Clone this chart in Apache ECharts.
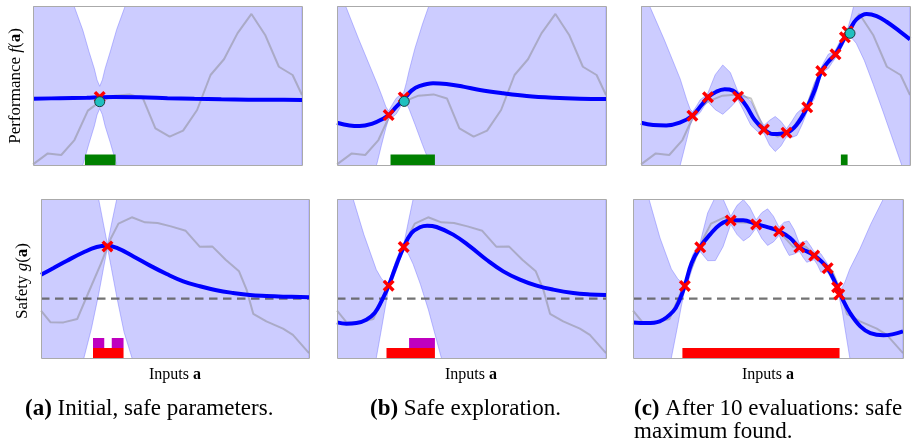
<!DOCTYPE html>
<html>
<head>
<meta charset="utf-8">
<script src="https://cdn.jsdelivr.net/npm/echarts@6/dist/echarts.min.js"></script>
<style>
  html, body { margin: 0; padding: 0; background: #fff; }
  #chart { width: 917px; height: 443px; }
</style>
</head>
<body>
<div id="chart"></div>
<script>
// all x values are percent of the input range, y values percent of the panel height

// true functions (same in every column)
const truthFX = [0, 5.5, 10.5, 15.4, 20.4, 25.0, 30.3, 35.9, 40.9, 45.5, 50.8, 55.8, 61.0, 66.0, 71.0, 76.0, 81.2, 86.3, 91.4, 96.5, 100];
const truthFY = [0.4, 7.3, 6.3, 15.7, 34.2, 40.0, 43.6, 44.4, 41.8, 23.1, 17.8, 21.6, 34.6, 56.6, 66.5, 82.8, 95.0, 81.8, 61.8, 56.6, 44.0];
const truthGX = [0, 3.5, 8.4, 13.5, 17.8, 22.4, 26.0, 28.9, 33.9, 38.8, 43.5, 48.5, 54.0, 59.2, 63.9, 68.9, 73.9, 76.7, 79.2, 84.1, 90.3, 94.0, 100];
const truthGY = [29.8, 22.5, 22.4, 24.5, 41.5, 59.5, 75.0, 84.5, 88.5, 85.3, 84.9, 82.8, 80.0, 70.0, 70.2, 61.8, 54.5, 43.0, 27.8, 23.0, 18.5, 14.5, 3.1];
const safeLevel = 37.3;

// (a) performance
const aF_meanX = [0, 10, 20, 24.8, 30, 40, 50, 60, 70, 80, 90, 100];
const aF_mean = [41.7, 42.0, 42.3, 42.6, 42.7, 42.6, 42.0, 41.6, 41.3, 41.1, 41.0, 40.9];
const aF_bandX = [0, 4.8, 15.3, 18.5, 20.8, 22.8, 23.8, 24.8, 25.8, 26.8, 28.8, 31.1, 34.3, 44.8, 100];
const aF_bandLo = [-73, -58, -15.2, -0.1, 13.4, 24.5, 31.5, 35.5, 31.6, 24.6, 13.7, 0.2, -14.9, -58, -289];
const aF_bandHi = [157, 142, 99.8, 84.9, 71.4, 60.5, 53.5, 49.5, 53.6, 60.6, 71.7, 85.2, 100.1, 142, 371];
const aF_obsX = [24.8], aF_obsY = [42.8];
const aF_bestX = [24.8], aF_bestY = [39.8];
const aF_safe = [[19.3, 30.7]];

// (b) performance
const bF_meanX = [0, 4.7, 8.4, 13.4, 17.1, 19.2, 22.1, 25.2, 27.7, 30.8, 35.7, 40.7, 46.9, 53.1, 61.8, 70.5, 80.4, 90.3, 100];
const bF_mean = [26.6, 24.9, 24.5, 26.2, 29.1, 31.4, 36.7, 41.9, 46.8, 49.7, 51.4, 50.9, 49.3, 47.2, 45.1, 43.4, 42.3, 41.7, 41.5];
const bF_bandX = [0, 3.2, 8, 14.9, 16.5, 18.2, 19.2, 20.6, 22, 23.4, 24.8, 25.8, 26.8, 29, 31.8, 34.2, 36.4, 45, 100];
const bF_bandLo = [-56.4, -49, -30.6, 1.2, 12.3, 23.5, 28.9, 30.1, 32, 36, 40.5, 38.8, 35.2, 25.5, 12.7, 2.3, 0, -41, -158.5];
const bF_bandHi = [109.6, 100, 79.4, 51.2, 44.3, 36.5, 33.9, 38.1, 42, 44, 45.5, 51.8, 59.2, 73.5, 88.7, 100.3, 102.6, 139, 241.5];
const bF_obsX = [19.2, 24.8], bF_obsY = [31.4, 42.5];
const bF_bestX = [25.0], bF_bestY = [40.0];
const bF_safe = [[19.9, 36.4]];

// (c) performance
const cF_meanX = [0, 4.5, 9.4, 14.4, 19.1, 22.5, 24.9, 28.0, 31.1, 34.2, 36.5, 39.3, 42.3, 45.7, 49.1, 54.1, 57.8, 61.8, 64.6, 67.0, 69.6, 72.5, 75.8, 77.7, 80.1, 83.9, 87.6, 91.3, 96.3, 100];
const cF_mean = [26.6, 25.2, 24.9, 26.6, 31.0, 37.7, 42.6, 46.1, 47.6, 46.8, 43.0, 36.7, 28.3, 22.4, 19.5, 20.3, 25.2, 36.3, 47.2, 58.7, 65.0, 70.2, 80.3, 85.3, 91.6, 95.0, 93.7, 90.1, 83.9, 79.0];
const cF_bandX = [0, 3.2, 8.7, 14.6, 17, 18.3, 19.2, 20.6, 22, 23.4, 24.8, 27.6, 30.4, 33.2, 36.0, 38.4, 40.85, 43.3, 45.7, 47.8, 49.9, 52, 54.1, 56, 57.95, 59.9, 61.8, 63.1, 64.4, 65.7, 67.0, 68.3, 69.65, 71, 72.3, 74, 75.8, 76.8, 78, 80, 83, 86.4, 90, 96.9, 100];
const cF_bandLo = [-63, -49, -29, 0, 16, 25, 28.5, 31, 33, 36.8, 40, 34.8, 31.9, 36.2, 41.3, 33.3, 25, 21.1, 19.9, 12.5, 8.5, 11.9, 17.8, 17.3, 18.6, 25.5, 33.8, 38, 41.5, 48.7, 56.4, 59.3, 60.7, 64.3, 67.3, 72, 77.8, 80.5, 80.5, 76.6, 65.8, 50.5, 33.5, 0, -16];
const cF_bandHi = [116, 100, 78.6, 54, 41, 35, 33.5, 37, 41, 42.8, 45, 56.8, 62.9, 58.2, 46.3, 43.9, 40, 31.7, 24.9, 28.1, 30.5, 27.5, 22.8, 27.3, 32.6, 35.5, 38.8, 45, 51.5, 55.7, 61.4, 65.7, 69.7, 70.7, 72.3, 78, 82.8, 85.5, 92.5, 106.6, 123.8, 138.5, 149.5, 166, 174];
const cF_obsX = [19.1, 24.9, 36.1, 45.7, 54.1, 61.8, 67.0, 72.3, 75.8, 76.8];
const cF_obsY = [31.0, 42.6, 43.0, 22.4, 20.3, 36.3, 59.1, 69.6, 80.3, 84.0];
const cF_bestX = [77.7], cF_bestY = [82.8];
const cF_safe = [[74.3, 76.8]];

// (a) safety
const aG_meanX = [0, 4.7, 9.7, 15.9, 20.8, 24.8, 28.3, 34.5, 40.7, 46.9, 53.1, 59.3, 65.5, 71.7, 77.9, 84.1, 90.3, 100];
const aG_mean = [52.4, 56.6, 61.2, 66.5, 69.8, 70.6, 69.2, 63.9, 58.1, 52.8, 48.2, 45.1, 42.6, 40.9, 39.6, 39.0, 38.6, 38.2];
const aG_bandX = [0, 10, 16.1, 18.8, 21.5, 23.3, 24.8, 26.3, 28.3, 31, 34.1, 45, 100];
const aG_bandLo = [-97.6, -43.7, 0.6, 18.4, 40, 56.3, 69.4, 56.2, 38.2, 16.2, -0.8, -75.5, -362];
const aG_bandHi = [202, 166, 132.6, 118.4, 100, 84.3, 71.4, 84.2, 100.2, 118.2, 129.2, 184.5, 438];
const aG_obsX = [24.8], aG_obsY = [70.2];
const aG_safe = [[19.4, 30.8]];
const aG_expand = [[19.4, 23.6], [26.4, 30.8]];

// (b) safety
const bG_meanX = [0, 3.5, 7.2, 10.9, 14.0, 16.5, 19.2, 22.1, 24.8, 27.7, 30.8, 33.5, 37.0, 43.2, 49.4, 55.6, 61.8, 68.0, 74.2, 80.4, 87.8, 94.0, 100];
const bG_mean = [22.4, 21.6, 22.0, 24.1, 28.3, 35.6, 45.5, 58.7, 69.8, 78.6, 82.2, 83.2, 82.4, 77.6, 70.2, 61.8, 54.5, 49.3, 45.5, 43.0, 40.9, 40.0, 39.6];
const bG_bandX = [0, 6, 10, 14.6, 16.5, 18, 19.2, 20.6, 22, 23.4, 24.8, 26.5, 28.3, 31, 34, 38.8, 45, 100];
const bG_bandLo = [-87.6, -55.2, -30.4, 0, 18, 32.5, 44, 48.8, 54.8, 61.5, 68.3, 65.5, 59, 46.4, 30.2, 0, -34, -260.4];
const bG_bandHi = [132.4, 100, 77.6, 55.6, 50, 47.5, 47, 54.8, 61.8, 67.5, 71.3, 85.5, 100, 118.4, 136.2, 162.4, 186, 339.6];
const bG_obsX = [19.2, 24.8], bG_obsY = [45.5, 69.8];
const bG_safe = [[18.4, 36.4]];
const bG_expand = [[26.8, 36.4]];

// (c) safety
const cG_meanX = [0, 5, 9.9, 14.9, 17.3, 19.2, 21.7, 24.8, 28.5, 32.2, 36.3, 40.8, 45.5, 50.1, 54.2, 58.2, 61.6, 67.2, 72.0, 75.5, 77.4, 80.4, 84.2, 87.9, 92.8, 100];
const cG_mean = [22.4, 22.0, 23.1, 29.4, 36.7, 45.5, 59.7, 69.6, 77.6, 83.9, 86.6, 86.6, 84.3, 82.2, 79.7, 75.5, 69.6, 64.4, 56.6, 45.1, 37.7, 28.3, 19.9, 15.7, 14.3, 16.8];
const cG_bandX = [0, 5.9, 10, 14.2, 16.5, 18, 19.2, 20.6, 22, 23.4, 24.8, 27.65, 30.5, 33.35, 36.2, 38.55, 40.9, 43.25, 45.6, 47.7, 49.85, 52, 54.1, 56, 57.85, 59.7, 61.6, 63, 64.35, 65.7, 67.1, 68.35, 69.6, 70.85, 72.1, 73.85, 75.6, 76.4, 77.5, 78.5, 80.3, 84, 88, 92.7, 100];
const cG_bandLo = [-83, -55, -29, 0, 20, 33.5, 43, 49, 56.5, 63, 67.1, 61.2, 61.3, 70, 84.1, 77.6, 73.6, 76.4, 81.8, 75.2, 70.8, 73, 77.2, 70.2, 64.5, 65.4, 67.1, 63.3, 60.2, 61, 61.8, 58.5, 54, 54.3, 54, 48.5, 42, 38, 29.5, 18.8, 0, -27.5, -52, -72, -93];
const cG_bandHi = [127, 100, 75.5, 56, 50, 47.5, 48, 55, 64.5, 69, 72.1, 91.2, 101.3, 100, 89.1, 96, 99.6, 94.8, 86.8, 91.4, 93.8, 89.2, 82.2, 85.4, 86, 80.6, 72.1, 72.9, 73.8, 70.6, 66.8, 66.5, 65.5, 62.3, 59, 54.5, 47, 43, 44.5, 47.8, 56, 68.5, 84, 100, 127];
const cG_obsX = [19.2, 24.9, 36.2, 45.6, 54.1, 61.6, 67.1, 72.1, 75.6, 76.4];
const cG_obsY = [45.3, 69.6, 86.5, 84.0, 79.7, 69.6, 64.4, 56.5, 44.5, 40.0];
const cG_safe = [[18.3, 76.5]];

const FONT = '"Liberation Serif", "DejaVu Serif", serif';
const BAND = '#ccccff';
const CROSS = 'path://M2,0 L5,3 L8,0 L10,2 L7,5 L10,8 L8,10 L5,7 L2,10 L0,8 L3,5 L0,2 Z';

// grid boxes in px: left, top, width, height
const panels = [
  { box: [33, 6, 269, 159], meanX: aF_meanX, mean: aF_mean, bandX: aF_bandX, lo: aF_bandLo, hi: aF_bandHi,
    tX: truthFX, tY: truthFY, obsX: aF_obsX, obsY: aF_obsY, bestX: aF_bestX, bestY: aF_bestY, safe: aF_safe, safeColor: '#008000' },
  { box: [337, 6, 269, 159], meanX: bF_meanX, mean: bF_mean, bandX: bF_bandX, lo: bF_bandLo, hi: bF_bandHi,
    tX: truthFX, tY: truthFY, obsX: bF_obsX, obsY: bF_obsY, bestX: bF_bestX, bestY: bF_bestY, safe: bF_safe, safeColor: '#008000' },
  { box: [641, 6, 269, 159], meanX: cF_meanX, mean: cF_mean, bandX: cF_bandX, lo: cF_bandLo, hi: cF_bandHi,
    tX: truthFX, tY: truthFY, obsX: cF_obsX, obsY: cF_obsY, bestX: cF_bestX, bestY: cF_bestY, safe: cF_safe, safeColor: '#008000' },
  { box: [41, 199, 268, 159], meanX: aG_meanX, mean: aG_mean, bandX: aG_bandX, lo: aG_bandLo, hi: aG_bandHi,
    tX: truthGX, tY: truthGY, obsX: aG_obsX, obsY: aG_obsY, safe: aG_safe, safeColor: '#ff0000', expand: aG_expand, level: true },
  { box: [337, 199, 269, 159], meanX: bG_meanX, mean: bG_mean, bandX: bG_bandX, lo: bG_bandLo, hi: bG_bandHi,
    tX: truthGX, tY: truthGY, obsX: bG_obsX, obsY: bG_obsY, safe: bG_safe, safeColor: '#ff0000', expand: bG_expand, level: true },
  { box: [633, 199, 270, 159], meanX: cG_meanX, mean: cG_mean, bandX: cG_bandX, lo: cG_bandLo, hi: cG_bandHi,
    tX: truthGX, tY: truthGY, obsX: cG_obsX, obsY: cG_obsY, safe: cG_safe, safeColor: '#ff0000', level: true }
];

function zip(xs, ys) {
  return xs.map(function (x, i) { return [x, ys[i]]; });
}

// confidence band as one clipped polygon
function bandSeries(idx, xs, lo, hi) {
  return {
    type: 'custom', xAxisIndex: idx, yAxisIndex: idx, z: 1, silent: true,
    data: [[xs[0], lo[0]]],
    renderItem: function (params, api) {
      const top = xs.map(function (x, i) { return api.coord([x, hi[i]]); });
      const bot = xs.map(function (x, i) { return api.coord([x, lo[i]]); }).reverse();
      const cs = params.coordSys;
      return {
        type: 'group',
        clipPath: { type: 'rect', shape: { x: cs.x, y: cs.y, width: cs.width, height: cs.height } },
        children: [{
          type: 'polygon',
          shape: { points: top.concat(bot) },
          style: { fill: BAND, stroke: 'rgba(110,110,255,0.55)', lineWidth: 0.8 }
        }]
      };
    }
  };
}

// safe set strips at the bottom of a panel
function stripSeries(idx, ranges, color, row, h) {
  return {
    type: 'custom', xAxisIndex: idx, yAxisIndex: idx, z: 4, silent: true,
    data: ranges,
    renderItem: function (params, api) {
      const a = api.coord([api.value(0), 0]);
      const b = api.coord([api.value(1), 0]);
      return {
        type: 'rect',
        shape: { x: a[0], y: a[1] - h * (row + 1), width: b[0] - a[0], height: h },
        style: { fill: color }
      };
    }
  };
}

const grids = [], xAxes = [], yAxes = [], series = [], graphics = [];

panels.forEach(function (p, i) {
  grids.push({ left: p.box[0], top: p.box[1], width: p.box[2], height: p.box[3], show: false });
  xAxes.push({ type: 'value', gridIndex: i, min: 0, max: 100, show: false });
  yAxes.push({ type: 'value', gridIndex: i, min: 0, max: 100, show: false });

  series.push(bandSeries(i, p.bandX, p.lo, p.hi));
  series.push({
    type: 'line', xAxisIndex: i, yAxisIndex: i, z: 2, silent: true, symbol: 'none',
    data: zip(p.tX, p.tY),
    lineStyle: { color: 'rgba(128,128,128,0.45)', width: 2 }
  });
  if (p.level) {
    series.push({
      type: 'line', xAxisIndex: i, yAxisIndex: i, z: 3, silent: true, symbol: 'none',
      data: [[0, safeLevel], [100, safeLevel]],
      lineStyle: { color: 'rgba(90,90,90,0.85)', width: 2.2, type: [8.5, 5.5] }
    });
  }
  series.push(stripSeries(i, p.safe, p.safeColor, 0, p.level ? 10 : 10.5));
  if (p.expand) series.push(stripSeries(i, p.expand, '#bf00bf', 1, 10));
  series.push({
    type: 'line', xAxisIndex: i, yAxisIndex: i, z: 5, silent: true, symbol: 'none', smooth: 0.4,
    data: zip(p.meanX, p.mean),
    lineStyle: { color: '#0000ff', width: 4 }
  });
  series.push({
    type: 'scatter', xAxisIndex: i, yAxisIndex: i, z: 6, silent: true,
    symbol: CROSS, symbolSize: 12,
    data: zip(p.obsX, p.obsY),
    itemStyle: { color: '#ff0000', opacity: 1 }
  });
  if (p.bestX) {
    series.push({
      type: 'scatter', xAxisIndex: i, yAxisIndex: i, z: 7, silent: true,
      symbol: 'circle', symbolSize: 10,
      data: zip(p.bestX, p.bestY),
      itemStyle: { color: '#1fbfbf', borderColor: '#1d3d3d', borderWidth: 1, opacity: 1 }
    });
  }

  // frame on top
  graphics.push({
    type: 'rect', z: 100, silent: true,
    shape: { x: p.box[0] + 0.5, y: p.box[1] + 0.5, width: p.box[2], height: p.box[3] },
    style: { fill: 'none', stroke: '#aaaaaa', lineWidth: 1 }
  });
});

function txt(x, y, text, size, rich, rot, align) {
  const r = {};
  Object.keys(rich || {}).forEach(function (k) {
    r[k] = Object.assign({ fontFamily: FONT, fontSize: size, fill: '#000' }, rich[k]);
  });
  return {
    type: 'text', x: x, y: y, rotation: rot || 0, z: 100, silent: true,
    style: {
      text: text, fontFamily: FONT, fontSize: size, fill: '#000',
      align: align || 'center', verticalAlign: 'middle', rich: r
    }
  };
}

const richLab = { it: { fontStyle: 'italic' }, b: { fontWeight: 'bold' } };
graphics.push(txt(16, 86, 'Performance {it|f}({b|a})', 17, richLab, Math.PI / 2));
graphics.push(txt(23, 281, 'Safety {it|g}({b|a})', 17, richLab, Math.PI / 2));
graphics.push(txt(175, 375, 'Inputs {b|a}', 16, richLab));
graphics.push(txt(471, 375, 'Inputs {b|a}', 16, richLab));
graphics.push(txt(768, 375, 'Inputs {b|a}', 16, richLab));
graphics.push(txt(25, 409, '{b|(a)} Initial, safe parameters.', 23, richLab, 0, 'left'));
graphics.push(txt(370, 409, '{b|(b)} Safe exploration.', 23, richLab, 0, 'left'));
graphics.push(txt(634, 409, '{b|(c)} After 10 evaluations: safe', 23, richLab, 0, 'left'));
graphics.push(txt(634, 432, 'maximum found.', 23, richLab, 0, 'left'));

const chart = echarts.init(document.getElementById('chart'));
chart.setOption({
  backgroundColor: '#ffffff',
  animation: false,
  grid: grids,
  xAxis: xAxes,
  yAxis: yAxes,
  series: series,
  graphic: graphics
});
</script>
</body>
</html>
